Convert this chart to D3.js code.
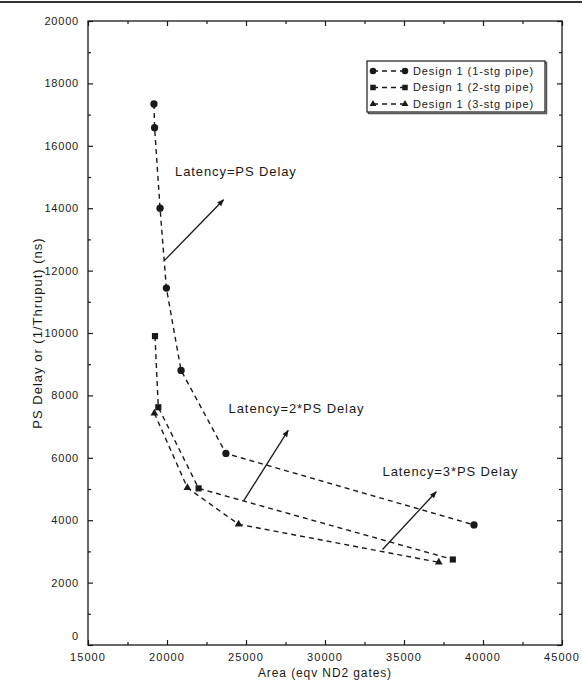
<!DOCTYPE html>
<html>
<head>
<meta charset="utf-8">
<script src="https://cdn.jsdelivr.net/npm/d3@7"></script>
<style>
  body { margin: 0; background: #fff; }
  text { font-family: "Liberation Sans", Arial, sans-serif; fill: #1a1a1a; }
</style>
</head>
<body>
<div id="theGraph"></div>
<script>
// values
const seriesNames = ["Design 1 (1-stg pipe)", "Design 1 (2-stg pipe)", "Design 1 (3-stg pipe)"];
const area1 = [19175, 19215, 19560, 19960, 20890, 23730, 39430];
const delay1 = [17340, 16580, 14000, 11440, 8800, 6140, 3850];
const area2 = [19240, 19450, 22000, 38090];
const delay2 = [9900, 7620, 5020, 2740];
const area3 = [19200, 21290, 24530, 37200];
const delay3 = [7430, 5040, 3870, 2650];

const xTicks = [15000, 20000, 25000, 30000, 35000, 40000, 45000];
const yTicks = [0, 2000, 4000, 6000, 8000, 10000, 12000, 14000, 16000, 18000, 20000];

// annotations: label, label anchor, arrow tail, arrow head (data units)
const noteLabels = ["Latency=PS Delay", "Latency=2*PS Delay", "Latency=3*PS Delay"];
const noteText = [[20510, 15180], [23900, 7570], [33640, 5550]];
const noteFrom = [[19830, 12320], [24850, 4620], [33640, 3060]];
const noteTo = [[23580, 14270], [27670, 6880], [37040, 4910]];

const width = 582, height = 689,
    margin = {left: 88, top: 21, right: 20, bottom: 44};

const svg = d3.select("#theGraph")
    .append("svg")
    .attr("width", width)
    .attr("height", height);

const xScale = d3.scaleLinear().domain([15000, 45000]).range([margin.left, width - margin.right]);
const yScale = d3.scaleLinear().domain([0, 20000]).range([height - margin.bottom, margin.top]);

const ink = "#1a1a1a";

// scanned page edge line at the top
svg.append("line")
    .attr("x1", 0).attr("x2", width)
    .attr("y1", 2).attr("y2", 2)
    .attr("stroke", "#333").attr("stroke-width", 2);

// inward ticks on all four sides
const majorX = xTicks, minorX = d3.range(17500, 45000, 5000);
const majorY = yTicks, minorY = d3.range(1000, 20000, 2000);

function ticks(axis, tx, ty, values, size) {
    svg.append("g")
        .attr("transform", `translate(${tx},${ty})`)
        .call(axis.tickValues(values).tickSize(size).tickFormat(""))
        .call(g => g.select(".domain").remove());
}
ticks(d3.axisTop(xScale), 0, yScale(0), majorX, 5);
ticks(d3.axisTop(xScale), 0, yScale(0), minorX, 3);
ticks(d3.axisBottom(xScale), 0, yScale(20000), majorX, 5);
ticks(d3.axisBottom(xScale), 0, yScale(20000), minorX, 3);
ticks(d3.axisRight(yScale), xScale(15000), 0, majorY, 5);
ticks(d3.axisRight(yScale), xScale(15000), 0, minorY, 3);
ticks(d3.axisLeft(yScale), xScale(45000), 0, majorY, 5);
ticks(d3.axisLeft(yScale), xScale(45000), 0, minorY, 3);
svg.selectAll(".tick line").attr("stroke", ink).attr("stroke-width", 1.2);

// frame
svg.append("rect")
    .attr("x", xScale(15000)).attr("y", yScale(20000))
    .attr("width", xScale(45000) - xScale(15000))
    .attr("height", yScale(0) - yScale(20000))
    .attr("fill", "none").attr("stroke", ink).attr("stroke-width", 1.3);

// tick labels
svg.selectAll(".xlab").data(xTicks).enter()
    .append("text")
    .attr("class", "xlab")
    .attr("x", d => xScale(d))
    .attr("y", yScale(0) + 16)
    .attr("text-anchor", "middle")
    .style("font-size", "11px")
    .style("letter-spacing", "1.1px")
    .text(d => d);

svg.selectAll(".ylab").data(yTicks).enter()
    .append("text")
    .attr("class", "ylab")
    .attr("x", xScale(15000) - 9)
    .attr("y", d => yScale(d) + (d === 0 ? -5 : 4))
    .attr("text-anchor", "end")
    .style("font-size", "11px")
    .style("letter-spacing", "0.8px")
    .text(d => d);

// axis titles
svg.append("text")
    .attr("x", (xScale(15000) + xScale(45000)) / 2)
    .attr("y", 677)
    .attr("text-anchor", "middle")
    .style("font-size", "12px")
    .style("letter-spacing", "0.9px")
    .text("Area (eqv ND2 gates)");

svg.append("text")
    .attr("transform", `translate(42,${(yScale(0) + yScale(20000)) / 2}) rotate(-90)`)
    .attr("text-anchor", "middle")
    .style("font-size", "13px")
    .style("letter-spacing", "1px")
    .text("PS Delay or (1/Thruput) (ns)");

// series
const series = [
    {name: seriesNames[0], pts: area1.map((a, i) => [a, delay1[i]]), shape: d3.symbolCircle, size: 42},
    {name: seriesNames[1], pts: area2.map((a, i) => [a, delay2[i]]), shape: d3.symbolSquare, size: 38},
    {name: seriesNames[2], pts: area3.map((a, i) => [a, delay3[i]]), shape: d3.symbolTriangle, size: 26}
];

const line = d3.line().x(d => xScale(d[0])).y(d => yScale(d[1]));

series.forEach(s => {
    svg.append("path")
        .attr("d", line(s.pts))
        .attr("fill", "none")
        .attr("stroke", ink)
        .attr("stroke-width", 1.4)
        .attr("stroke-dasharray", "5,4");
    svg.selectAll(null).data(s.pts).enter()
        .append("path")
        .attr("transform", d => `translate(${xScale(d[0])},${yScale(d[1])})`)
        .attr("d", d3.symbol().type(s.shape).size(s.size))
        .attr("fill", ink);
});

// annotation arrows
svg.append("defs").append("marker")
    .attr("id", "head")
    .attr("viewBox", "0 0 10 10")
    .attr("refX", 9).attr("refY", 5)
    .attr("markerWidth", 7).attr("markerHeight", 7)
    .attr("markerUnits", "userSpaceOnUse")
    .attr("orient", "auto")
    .append("path")
    .attr("d", "M0,1 L10,5 L0,9 Z")
    .attr("fill", ink);

noteLabels.forEach((lab, i) => {
    svg.append("line")
        .attr("x1", xScale(noteFrom[i][0])).attr("y1", yScale(noteFrom[i][1]))
        .attr("x2", xScale(noteTo[i][0])).attr("y2", yScale(noteTo[i][1]))
        .attr("stroke", ink).attr("stroke-width", 1.3)
        .attr("marker-end", "url(#head)");
    svg.append("text")
        .attr("x", xScale(noteText[i][0]))
        .attr("y", yScale(noteText[i][1]))
        .attr("dy", "0.35em")
        .style("font-size", "13px")
        .style("letter-spacing", "0.9px")
        .text(lab);
});

// legend
const legend = svg.append("g").attr("transform", "translate(367,61)");
legend.append("rect")
    .attr("x", 1.5).attr("y", 1.5).attr("width", 178).attr("height", 51)
    .attr("fill", "none").attr("stroke", "#555").attr("stroke-width", 1.5);
legend.append("rect")
    .attr("width", 178).attr("height", 51)
    .attr("fill", "#fff").attr("stroke", ink).attr("stroke-width", 1.2);

series.forEach((s, i) => {
    const ly = 10 + i * 16.5;
    legend.append("line")
        .attr("x1", 6).attr("x2", 38)
        .attr("y1", ly).attr("y2", ly)
        .attr("stroke", ink).attr("stroke-width", 1.3)
        .attr("stroke-dasharray", "5,4");
    [6, 38].forEach(mx => {
        legend.append("path")
            .attr("transform", `translate(${mx},${ly})`)
            .attr("d", d3.symbol().type(s.shape).size(s.size * 0.8))
            .attr("fill", ink);
    });
    legend.append("text")
        .attr("x", 46).attr("y", ly)
        .attr("dy", "0.35em")
        .style("font-size", "11px")
        .style("letter-spacing", "0.9px")
        .text(s.name);
});
</script>
</body>
</html>
